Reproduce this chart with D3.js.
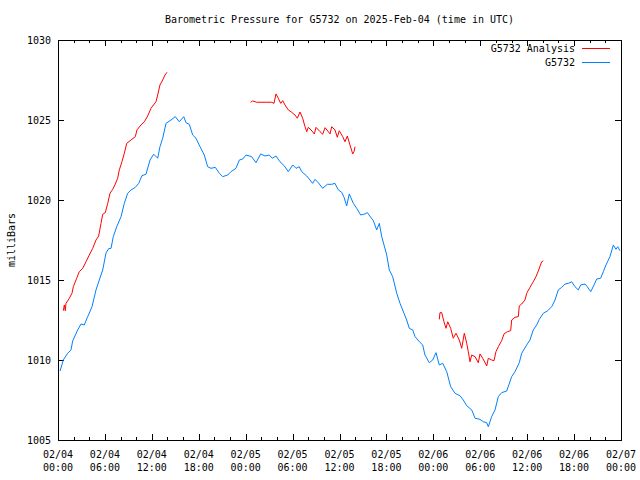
<!DOCTYPE html>
<html>
<head>
<meta charset="utf-8">
<script src="https://cdn.jsdelivr.net/npm/d3@7"></script>
<style>
  html, body { margin: 0; padding: 0; background: #fff; }
  svg { display: block; }
  text { font-family: "DejaVu Sans Mono", "Liberation Mono", monospace; font-size: 10px; fill: #000; }
</style>
</head>
<body>
<svg id="chart" width="640" height="480"></svg>
<script>
// ---- Data (hours since 2025-02-04 00:00 UTC, pressure in mb) ----
const titleText = "Barometric Pressure for G5732 on 2025-Feb-04 (time in UTC)";
const yLabel = "milliBars";
const seriesNames = ["G5732 Analysis", "G5732"];
const yTicks = [1005, 1010, 1015, 1020, 1025, 1030];
const xTickHours = [0, 6, 12, 18, 24, 30, 36, 42, 48, 54, 60, 66, 72];
const xTickDates = ["02/04","02/04","02/04","02/04","02/05","02/05","02/05","02/05","02/06","02/06","02/06","02/06","02/07"];
const xTickTimes = ["00:00","06:00","12:00","18:00","00:00","06:00","12:00","18:00","00:00","06:00","12:00","18:00","00:00"];

// Observed station (blue)
const obsHours = [0.26,0.68,1.24,1.66,1.88,2.52,2.94,3.36,3.80,4.35,4.86,5.28,5.72,6.14,6.48,6.78,7.07,7.51,8.06,8.48,8.91,9.34,9.89,10.32,10.74,11.25,11.77,12.24,12.75,13.04,13.39,13.81,14.45,15.00,15.51,16.08,16.37,16.79,17.23,17.65,18.16,18.71,19.14,19.57,20.12,20.63,21.06,21.70,22.12,22.76,23.19,23.62,24.04,24.77,25.32,25.92,26.47,27.02,27.41,27.88,28.39,28.94,29.45,30.02,30.44,30.86,31.17,31.81,32.23,32.57,32.87,33.29,33.85,34.44,35.00,35.42,35.85,36.28,36.58,36.92,37.25,37.77,38.20,38.71,39.26,39.56,39.99,40.32,40.76,41.09,41.40,41.69,42.04,42.37,42.80,43.32,43.74,44.25,44.59,44.93,45.36,45.66,46.21,46.64,46.93,47.48,47.92,48.34,48.76,49.20,49.71,50.22,50.77,51.41,51.83,52.27,52.91,53.33,53.97,54.39,54.83,55.03,55.46,55.89,56.31,56.74,57.38,58.02,58.44,58.99,59.30,59.94,60.36,60.78,61.22,61.55,62.06,62.57,63.14,63.56,63.98,64.42,64.84,65.26,65.70,66.12,66.54,66.85,67.40,67.69,68.13,68.55,68.89,69.40,69.74,70.08,70.59,71.02,71.36,71.58,71.87];
const obsValues = [1009.31,1010.00,1010.42,1010.63,1011.19,1011.88,1012.25,1012.19,1012.71,1013.33,1014.38,1015.00,1015.63,1016.69,1016.96,1016.98,1017.71,1018.33,1018.96,1019.79,1020.42,1020.63,1020.79,1021.04,1021.52,1021.61,1022.50,1022.86,1022.61,1023.33,1023.86,1024.79,1025.00,1025.21,1024.89,1025.21,1024.83,1024.73,1024.06,1023.86,1023.33,1022.81,1022.08,1021.98,1022.04,1021.67,1021.46,1021.56,1021.77,1021.98,1022.50,1022.56,1022.81,1022.71,1022.33,1022.88,1022.75,1022.81,1022.61,1022.75,1022.39,1022.13,1021.77,1022.19,1021.98,1022.08,1021.77,1021.50,1021.25,1021.04,1021.29,1021.08,1020.73,1020.98,1020.98,1021.04,1020.63,1020.48,1020.17,1019.63,1020.38,1019.79,1019.48,1019.06,1019.13,1019.21,1018.92,1018.71,1018.13,1018.54,1017.71,1017.19,1016.56,1015.63,1015.21,1014.17,1013.54,1012.92,1012.50,1011.98,1011.88,1011.46,1011.14,1010.94,1010.31,1009.83,1010.00,1010.46,1009.69,1009.79,1009.27,1008.33,1007.92,1007.77,1007.50,1007.14,1006.88,1006.36,1006.29,1006.14,1006.08,1005.83,1006.46,1006.88,1007.71,1007.96,1008.06,1008.96,1009.27,1009.83,1010.42,1010.94,1011.25,1011.88,1012.19,1012.54,1012.92,1013.06,1013.33,1013.75,1014.38,1014.54,1014.75,1014.79,1014.89,1014.58,1014.38,1014.69,1014.75,1014.58,1014.27,1014.69,1015.06,1015.11,1015.52,1015.94,1016.46,1017.19,1016.92,1017.08,1016.83];

// Analysis (red), three runs
const anaHours1 = [0.68,0.81,0.93,1.02,1.45,1.79,1.96,2.39,2.72,3.16,3.58,4.00,4.44,4.86,5.20,5.50,5.72,6.05,6.36,6.65,7.00,7.33,7.63,7.84,8.18,8.48,8.79,9.34,9.89,10.10,10.61,11.04,11.47,11.89,12.53,12.75,13.04,13.39,13.68,13.94];
const anaValues1 = [1013.08,1013.44,1013.08,1013.54,1013.86,1014.17,1014.58,1015.11,1015.52,1015.73,1016.14,1016.56,1016.98,1017.50,1017.75,1018.54,1019.11,1019.21,1019.79,1020.42,1020.67,1021.00,1021.36,1021.88,1022.39,1022.92,1023.54,1023.75,1023.96,1024.38,1024.69,1024.89,1025.25,1025.73,1026.14,1026.56,1027.19,1027.50,1027.81,1027.98];
const anaHours2 = [24.64,24.90,25.41,27.33,27.62,27.88,28.17,28.48,28.74,29.03,29.45,29.89,30.31,30.60,30.95,31.29,31.59,31.81,32.01,32.36,32.78,33.00,33.51,33.85,34.15,34.57,34.79,35.00,35.42,35.72,35.97,36.41,36.70,37.00,37.34,37.69,37.86,37.98];
const anaValues2 = [1026.11,1026.19,1026.11,1026.11,1026.04,1026.63,1026.36,1026.04,1026.21,1025.94,1025.63,1025.48,1025.31,1025.11,1025.50,1025.11,1024.58,1024.27,1024.54,1024.38,1024.13,1024.54,1024.27,1024.11,1024.52,1024.27,1024.13,1024.58,1024.38,1023.92,1024.33,1023.96,1023.64,1024.00,1023.44,1022.88,1023.02,1023.33];
const anaHours3 = [48.76,48.85,49.07,49.36,49.62,49.84,50.22,50.55,50.90,51.32,51.63,51.96,52.27,52.47,52.69,52.91,53.33,53.75,53.97,54.31,54.83,55.03,55.46,55.76,56.01,56.31,56.74,57.04,57.46,57.89,58.02,58.44,58.87,58.99,59.30,59.72,59.94,60.36,60.78,61.13,61.42,61.85,62.06];
const anaValues3 = [1012.54,1012.96,1012.96,1012.39,1011.98,1012.39,1011.98,1011.36,1011.67,1011.25,1010.73,1011.67,1011.04,1010.52,1009.89,1010.31,1010.21,1009.83,1010.38,1010.11,1009.63,1010.11,1010.00,1009.96,1010.52,1010.83,1011.21,1011.63,1011.77,1011.83,1012.50,1012.67,1012.71,1013.38,1013.50,1013.75,1014.17,1014.54,1014.89,1015.21,1015.56,1016.14,1016.19];

const colors = ["#ff0000", "#0080ff"];

// ---- Layout ----
const svg = d3.select("#chart");
const L = 58, R = 621, T = 40, B = 440;

const x = d3.scaleLinear().domain([0, 72]).range([L, R]);
const y = d3.scaleLinear().domain([1005, 1030]).range([B, T]);

const zip = (hs, vs) => hs.map((h, i) => [h, vs[i]]);
const line = d3.line().x(d => x(d[0])).y(d => y(d[1]));

// Title
svg.append("text").attr("x", (L + R) / 2).attr("y", 23)
  .attr("text-anchor", "middle").text(titleText);

// Y label
svg.append("text").attr("transform", "translate(15,240) rotate(-90)")
  .attr("text-anchor", "middle").text(yLabel);

// Ticks
const g = svg.append("g").attr("stroke", "#000").attr("stroke-width", 1)
  .attr("shape-rendering", "crispEdges");
const minorHours = d3.range(0, 73, 2);
minorHours.forEach(h => {
  const major = h % 6 === 0;
  const len = major ? 6 : 3;
  const px = Math.round(x(h)) + 0.5;
  g.append("line").attr("x1", px).attr("x2", px).attr("y1", B).attr("y2", B - len);
  g.append("line").attr("x1", px).attr("x2", px).attr("y1", T).attr("y2", T + len);
});
yTicks.forEach(v => {
  const py = Math.round(y(v)) + 0.5;
  g.append("line").attr("x1", L).attr("x2", L + 6).attr("y1", py).attr("y2", py);
  g.append("line").attr("x1", R).attr("x2", R - 6).attr("y1", py).attr("y2", py);
});

// Frame
svg.append("rect").attr("x", L + 0.5).attr("y", T + 0.5)
  .attr("width", R - L).attr("height", B - T)
  .attr("fill", "none").attr("stroke", "#000").attr("stroke-width", 1)
  .attr("shape-rendering", "crispEdges");

// Y tick labels
yTicks.forEach(v => {
  svg.append("text").attr("x", L - 7).attr("y", y(v) + 4)
    .attr("text-anchor", "end").text(v);
});

// X tick labels
xTickHours.forEach((h, i) => {
  const t = svg.append("text").attr("x", x(h)).attr("y", 458).attr("text-anchor", "middle");
  t.append("tspan").attr("x", x(h)).attr("y", 458).text(xTickDates[i]);
  t.append("tspan").attr("x", x(h)).attr("y", 471).text(xTickTimes[i]);
});

// Series
const lines = svg.append("g").attr("fill", "none").attr("stroke-width", 1);
[zip(anaHours1, anaValues1), zip(anaHours2, anaValues2), zip(anaHours3, anaValues3)].forEach(seg => {
  lines.append("path").attr("d", line(seg)).attr("stroke", colors[0]);
});
lines.append("path").attr("d", line(zip(obsHours, obsValues))).attr("stroke", colors[1]);

// Legend
seriesNames.forEach((name, i) => {
  const ly = 48 + i * 14;
  svg.append("text").attr("x", 575).attr("y", ly + 4).attr("text-anchor", "end").text(name);
  svg.append("line").attr("x1", 582).attr("x2", 610).attr("y1", ly + 0.5).attr("y2", ly + 0.5)
    .attr("stroke", colors[i]).attr("stroke-width", 1).attr("shape-rendering", "crispEdges");
});
</script>
</body>
</html>
